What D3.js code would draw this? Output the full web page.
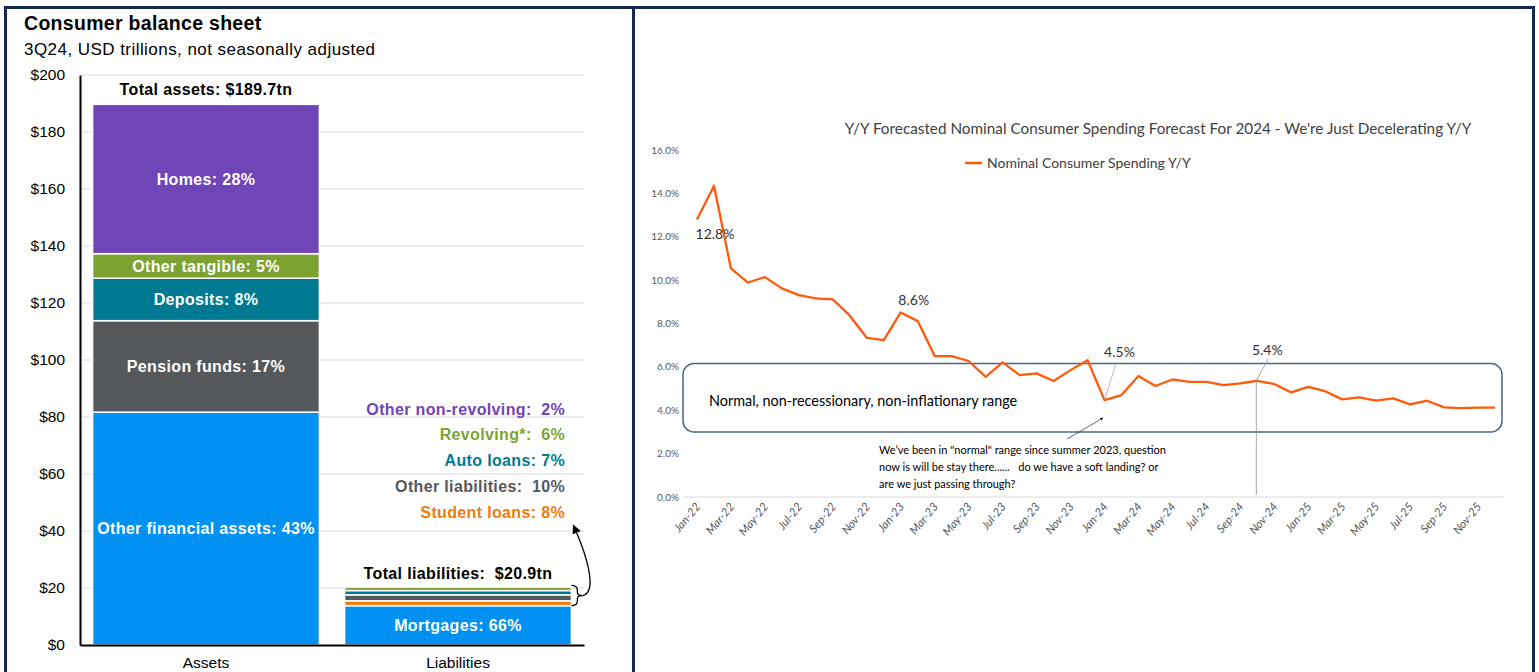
<!DOCTYPE html>
<html>
<head>
<meta charset="utf-8">
<script src="https://cdn.jsdelivr.net/npm/d3@7"></script>
<style>
  body { margin: 0; background: #fff; }
  svg { display: block; }
  text { white-space: pre; }
</style>
</head>
<body>
<svg id="chart" width="1539" height="672"></svg>
<script>
// ---- left panel data: consumer balance sheet, USD tn ----
const barCategories = ['Assets', 'Liabilities'];
const assetNames = ['Other financial assets', 'Pension funds', 'Deposits', 'Other tangible', 'Homes'];
const assetValues = [81.7, 32.1, 14.9, 8.6, 52.4];
const assetShares = ['43%', '17%', '8%', '5%', '28%'];
const liabNames = ['Mortgages', 'Student loans', 'Other liabilities', 'Auto loans', 'Revolving*', 'Other non-revolving'];
const liabValues = [13.8, 1.7, 2.1, 1.5, 1.3, 0.5];
const liabShares = ['66%', '8%', '10%', '7%', '6%', '2%'];
const balanceTicks = [0, 20, 40, 60, 80, 100, 120, 140, 160, 180, 200];

// ---- right panel data: nominal consumer spending y/y, % ----
const spendValues = [
  12.8, 14.35, 10.54, 9.89, 10.14, 9.62, 9.31, 9.16, 9.11, 8.36, 7.34, 7.23,
  8.51, 8.11, 6.5, 6.5, 6.27, 5.54, 6.21, 5.62, 5.70, 5.35, 5.85, 6.31,
  4.47, 4.70, 5.58, 5.12, 5.42, 5.31, 5.31, 5.16, 5.24, 5.36, 5.21, 4.82,
  5.08, 4.88, 4.50, 4.59, 4.44, 4.55, 4.27, 4.44, 4.13, 4.10, 4.12, 4.12
];
const spendTicks = [0, 2, 4, 6, 8, 10, 12, 14, 16];
const spendMonths = d3.timeMonth.range(new Date(2022, 0, 1), new Date(2026, 0, 1));
const callouts = [
  { i: 0, text: '12.8%' },
  { i: 12, text: '8.6%' },
  { i: 24, text: '4.5%' },
  { i: 33, text: '5.4%' }
];

const svg = d3.select('#chart');
const NAVY = '#13294b';
const ARIAL = '"Liberation Sans", Arial, sans-serif';
const CAL = 'Lato, "Open Sans", sans-serif';

const defs = svg.append('defs');
defs.append('marker')
  .attr('id', 'head')
  .attr('viewBox', '0 0 10 10')
  .attr('refX', 9).attr('refY', 5)
  .attr('markerWidth', 7).attr('markerHeight', 7)
  .attr('orient', 'auto')
  .append('path').attr('d', 'M0,0L10,5L0,10Z').attr('fill', '#000');
defs.append('marker')
  .attr('id', 'headSmall')
  .attr('viewBox', '0 0 10 10')
  .attr('refX', 9).attr('refY', 5)
  .attr('markerWidth', 4).attr('markerHeight', 4)
  .attr('orient', 'auto')
  .append('path').attr('d', 'M0,0L10,5L0,10Z').attr('fill', '#222');

//////////////////////////////////////////////
// left panel

const left = svg.append('g');

left.append('text')
  .attr('x', 24).attr('y', 30)
  .attr('font-family', ARIAL).attr('font-size', 19.5).attr('font-weight', 'bold')
  .attr('letter-spacing', 0.3)
  .text('Consumer balance sheet');
left.append('text')
  .attr('x', 24).attr('y', 55)
  .attr('font-family', ARIAL).attr('font-size', 17).attr('letter-spacing', 0.45)
  .text('3Q24, USD trillions, not seasonally adjusted');

const xb = d3.scaleBand().domain(barCategories).range([80, 584]).paddingInner(0.1).paddingOuter(0.05);
const yb = d3.scaleLinear().domain([0, 200]).range([645, 75]);

left.append('g')
  .selectAll('line')
  .data(balanceTicks.slice(1))
  .join('line')
  .attr('x1', 80).attr('x2', 584)
  .attr('y1', d => yb(d)).attr('y2', d => yb(d))
  .attr('stroke', '#d9d9d9').attr('stroke-width', 1.2);

const yAxisL = left.append('g')
  .attr('transform', 'translate(80,0)')
  .call(d3.axisLeft(yb).tickValues(balanceTicks).tickSize(0).tickPadding(15).tickFormat(d => '$' + d));
yAxisL.select('.domain').attr('stroke', '#000').attr('stroke-width', 2);
yAxisL.selectAll('text').attr('font-family', ARIAL).attr('font-size', 15.5).attr('fill', '#000');

function stack(values) {
  let acc = 0;
  return values.map(v => { const s = { y0: acc, y1: acc + v }; acc += v; return s; });
}

const assetColors = ['#0091f2', '#55585b', '#007a93', '#7ca232', '#6f45b8'];
const liabColors = ['#0091f2', '#f27a0c', '#55585b', '#007a93', '#7ca232', '#6f45b8'];

const assetStack = stack(assetValues);
const liabStack = stack(liabValues);

function boldLabel(sel) {
  return sel.attr('font-family', ARIAL).attr('font-size', 16).attr('font-weight', 'bold')
    .attr('letter-spacing', 0.35);
}

left.append('g')
  .selectAll('rect')
  .data(assetStack)
  .join('rect')
  .attr('x', xb('Assets')).attr('width', xb.bandwidth())
  .attr('y', d => yb(d.y1)).attr('height', d => yb(d.y0) - yb(d.y1))
  .attr('fill', (d, i) => assetColors[i])
  .attr('stroke', '#fff').attr('stroke-width', 1.5);

left.append('g')
  .selectAll('text')
  .data(assetStack)
  .join('text')
  .attr('x', xb('Assets') + xb.bandwidth() / 2)
  .attr('y', d => yb((d.y0 + d.y1) / 2))
  .attr('dy', '0.35em')
  .attr('text-anchor', 'middle')
  .call(boldLabel)
  .attr('fill', '#fff')
  .text((d, i) => assetNames[i] + ': ' + assetShares[i]);

left.append('g')
  .selectAll('rect')
  .data(liabStack)
  .join('rect')
  .attr('x', xb('Liabilities')).attr('width', xb.bandwidth())
  .attr('y', d => yb(d.y1)).attr('height', d => yb(d.y0) - yb(d.y1))
  .attr('fill', (d, i) => liabColors[i])
  .attr('stroke', '#fff').attr('stroke-width', 1.5);

left.append('text')
  .attr('x', xb('Liabilities') + xb.bandwidth() / 2)
  .attr('y', yb(liabStack[0].y1 / 2))
  .attr('dy', '0.35em').attr('text-anchor', 'middle')
  .call(boldLabel)
  .attr('fill', '#fff')
  .text(liabNames[0] + ': ' + liabShares[0]);

// small-segment legend, top to bottom
const legendOrder = [5, 4, 3, 2, 1];
const legendGap = { 5: '  ', 4: '  ', 3: ' ', 2: '  ', 1: ' ' };
left.append('g')
  .selectAll('text')
  .data(legendOrder)
  .join('text')
  .attr('x', 565)
  .attr('y', (d, k) => yb(82.8) + k * 25.8)
  .attr('dy', '0.35em').attr('text-anchor', 'end')
  .call(boldLabel)
  .attr('fill', d => liabColors[d])
  .text(d => liabNames[d] + ':' + legendGap[d] + liabShares[d]);

const totalA = d3.sum(assetValues), totalL = d3.sum(liabValues);
left.append('text')
  .attr('x', xb('Assets') + xb.bandwidth() / 2).attr('y', yb(totalA) - 15)
  .attr('dy', '0.35em').attr('text-anchor', 'middle')
  .call(boldLabel)
  .text('Total assets: $' + totalA.toFixed(1) + 'tn');
left.append('text')
  .attr('x', xb('Liabilities') + xb.bandwidth() / 2).attr('y', yb(totalL) - 12)
  .attr('dy', '0.35em').attr('text-anchor', 'middle')
  .call(boldLabel)
  .text('Total liabilities:  $' + totalL.toFixed(1) + 'tn');

const xAxisL = left.append('g')
  .attr('transform', 'translate(0,645)')
  .call(d3.axisBottom(xb).tickSize(0).tickPadding(12));
xAxisL.select('.domain').attr('stroke', '#000').attr('stroke-width', 2);
xAxisL.selectAll('text').attr('font-family', ARIAL).attr('font-size', 15.5).attr('fill', '#000');

// brace + curved arrow
const bx = xb('Liabilities') + xb.bandwidth();
const bTop = yb(totalL), bBot = yb(liabStack[0].y1), bMid = (bTop + bBot) / 2;
left.append('path')
  .attr('d', `M${bx},${bTop} Q${bx + 6},${bTop} ${bx + 6},${bTop + 5} L${bx + 6},${bMid - 3} Q${bx + 6},${bMid} ${bx + 11},${bMid}` +
    ` Q${bx + 6},${bMid} ${bx + 6},${bMid + 3} L${bx + 6},${bBot - 5} Q${bx + 6},${bBot} ${bx},${bBot}`)
  .attr('fill', 'none').attr('stroke', '#000').attr('stroke-width', 1.3);
left.append('path')
  .attr('d', `M${bx + 11},${bMid} C${bx + 24},${bMid - 2} ${bx + 20},${bMid - 30} ${bx + 2},${yb(42)}`)
  .attr('fill', 'none').attr('stroke', '#000').attr('stroke-width', 1.3)
  .attr('marker-end', 'url(#head)');

//////////////////////////////////////////////
// right panel

const right = svg.append('g');
const xs = d3.scalePoint().domain(d3.range(spendValues.length)).range([688.5, 1503.5]).padding(0.5);
const ys = d3.scaleLinear().domain([0, 16]).range([497, 150]);

right.append('text')
  .attr('x', 1158).attr('y', 129)
  .attr('dy', '0.35em').attr('text-anchor', 'middle')
  .attr('font-family', CAL).attr('font-size', 15.3).attr('fill', '#404040')
  .text("Y/Y Forecasted Nominal Consumer Spending Forecast For 2024 - We're Just Decelerating Y/Y");

right.append('line')
  .attr('x1', 965).attr('x2', 982).attr('y1', 163).attr('y2', 163)
  .attr('stroke', '#ff5a0a').attr('stroke-width', 2.5);
right.append('text')
  .attr('x', 987).attr('y', 163).attr('dy', '0.35em')
  .attr('font-family', CAL).attr('font-size', 14).attr('fill', '#404040')
  .text('Nominal Consumer Spending Y/Y');

right.append('line')
  .attr('x1', 683).attr('x2', 1503).attr('y1', ys(0)).attr('y2', ys(0))
  .attr('stroke', '#d9d9d9');

right.append('g')
  .selectAll('text')
  .data(spendTicks)
  .join('text')
  .attr('x', 679).attr('y', d => ys(d)).attr('dy', '0.35em')
  .attr('text-anchor', 'end')
  .attr('font-family', CAL).attr('font-size', 10).attr('fill', '#595959')
  .text(d => d3.format('.1f')(d) + '%');

const fmtMonth = d3.timeFormat('%b-%y');
right.append('g')
  .selectAll('text')
  .data(d3.range(0, spendMonths.length, 2))
  .join('text')
  .attr('transform', i => `translate(${xs(i) + 4},${ys(0) + 10}) rotate(-50)`)
  .attr('text-anchor', 'end')
  .attr('font-family', CAL).attr('font-size', 11.5).attr('font-style', 'italic').attr('fill', '#595959')
  .text(i => fmtMonth(spendMonths[i]));

// normal range box
right.append('rect')
  .attr('x', 683).attr('width', 1502 - 683)
  .attr('y', ys(6.15)).attr('height', ys(3.0) - ys(6.15))
  .attr('rx', 11)
  .attr('fill', 'none').attr('stroke', '#4d6584').attr('stroke-width', 1.5);
right.append('text')
  .attr('x', 709).attr('y', ys(4.45)).attr('dy', '0.35em')
  .attr('font-family', CAL).attr('font-size', 14.4).attr('fill', '#000')
  .text('Normal, non-recessionary, non-inflationary range');

right.append('path')
  .datum(spendValues)
  .attr('d', d3.line().x((d, i) => xs(i)).y(d => ys(d)))
  .attr('fill', 'none').attr('stroke', '#ff5a0a').attr('stroke-width', 2.3)
  .attr('stroke-linejoin', 'round');

// callouts
const c0 = callouts[0], c1 = callouts[1], c2 = callouts[2], c3 = callouts[3];
right.append('text')
  .attr('x', xs(c0.i) + 18).attr('y', ys(spendValues[c0.i]) + 15).attr('dy', '0.35em')
  .attr('text-anchor', 'middle').attr('font-family', CAL).attr('font-size', 14).attr('fill', '#333')
  .text(c0.text);
right.append('text')
  .attr('x', xs(c1.i) + 13).attr('y', ys(spendValues[c1.i]) - 12).attr('dy', '0.35em')
  .attr('text-anchor', 'middle').attr('font-family', CAL).attr('font-size', 14).attr('fill', '#333')
  .text(c1.text);
right.append('text')
  .attr('x', xs(c2.i) + 15).attr('y', ys(spendValues[c2.i]) - 48).attr('dy', '0.35em')
  .attr('text-anchor', 'middle').attr('font-family', CAL).attr('font-size', 14).attr('fill', '#333')
  .text(c2.text);
right.append('line')
  .attr('x1', xs(c2.i) + 12).attr('y1', ys(spendValues[c2.i]) - 38)
  .attr('x2', xs(c2.i)).attr('y2', ys(spendValues[c2.i]))
  .attr('stroke', '#a6a6a6').attr('stroke-width', 0.8);
right.append('text')
  .attr('x', xs(c3.i) + 10).attr('y', ys(spendValues[c3.i]) - 31).attr('dy', '0.35em')
  .attr('text-anchor', 'middle').attr('font-family', CAL).attr('font-size', 14).attr('fill', '#333')
  .text(c3.text);
right.append('path')
  .attr('d', `M${xs(c3.i) + 11},${ys(spendValues[c3.i]) - 22} L${xs(c3.i) - 1},${ys(spendValues[c3.i])} L${xs(c3.i) - 1},${ys(0) - 2}`)
  .attr('fill', 'none').attr('stroke', '#a6a6a6').attr('stroke-width', 1);

// note + arrow
right.append('line')
  .attr('x1', 1067).attr('y1', 439).attr('x2', 1103).attr('y2', 418)
  .attr('stroke', '#444').attr('stroke-width', 0.8)
  .attr('marker-end', 'url(#headSmall)');
right.append('g')
  .selectAll('text')
  .data([
    'We\u2019ve been in "normal" range since summer 2023, question',
    'now is will be stay there......   do we have a soft landing? or',
    'are we just passing through?'
  ])
  .join('text')
  .attr('x', 879).attr('y', (d, i) => 450 + i * 17).attr('dy', '0.35em')
  .attr('font-family', CAL).attr('font-size', 11).attr('fill', '#000')
  .text(d => d);

//////////////////////////////////////////////
// frame

const frame = svg.append('g').attr('fill', NAVY);
frame.append('rect').attr('x', 4).attr('y', 6).attr('width', 1531).attr('height', 3);
frame.append('rect').attr('x', 4).attr('y', 6).attr('width', 3).attr('height', 666);
frame.append('rect').attr('x', 632).attr('y', 6).attr('width', 3).attr('height', 666);
frame.append('rect').attr('x', 1532).attr('y', 6).attr('width', 3).attr('height', 666);
</script>
</body>
</html>
